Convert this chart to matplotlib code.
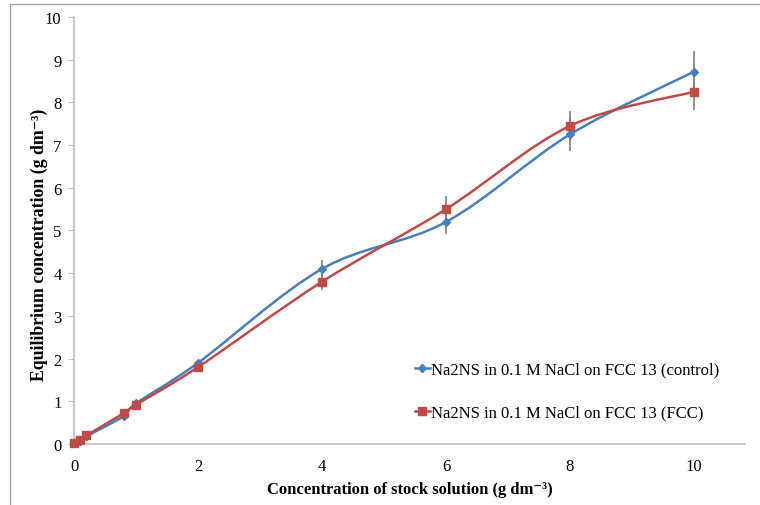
import numpy as np
import matplotlib.pyplot as plt
from matplotlib.path import Path
from matplotlib.patches import PathPatch
from matplotlib.lines import Line2D

# Data
stock_conc = [0, 0.1, 0.2, 0.8, 1, 2, 4, 6, 8, 10]
control_eq = [0.02, 0.08, 0.18, 0.65, 0.95, 1.9, 4.1, 5.2, 7.25, 8.72]
fcc_eq = [0.02, 0.1, 0.2, 0.72, 0.92, 1.8, 3.8, 5.5, 7.45, 8.25]
control_err = [0, 0, 0, 0, 0, 0, 0.2, 0.28, 0.38, 0.48]
fcc_err = [0, 0, 0, 0, 0, 0, 0.2, 0.3, 0.35, 0.42]

label_control = 'Na2NS in 0.1 M NaCl on FCC 13 (control)'
label_fcc = 'Na2NS in 0.1 M NaCl on FCC 13 (FCC)'

BLUE = '#4A7EBB'
RED = '#BE4B48'
AXIS_GRAY = '#BFBFBF'

plt.rcParams['font.family'] = ['Liberation Serif', 'DejaVu Serif']


def smooth_path(x, y, tension=1 / 6):
    # Excel-like smoothed line built from cubic Bezier segments
    x = np.asarray(x, float)
    y = np.asarray(y, float)
    n = len(x)
    verts = [(x[0], y[0])]
    codes = [Path.MOVETO]
    for i in range(n - 1):
        i0 = max(i - 1, 0)
        i3 = min(i + 2, n - 1)
        c1 = (x[i] + (x[i + 1] - x[i0]) * tension, y[i] + (y[i + 1] - y[i0]) * tension)
        c2 = (x[i + 1] - (x[i3] - x[i]) * tension, y[i + 1] - (y[i3] - y[i]) * tension)
        verts += [c1, c2, (x[i + 1], y[i + 1])]
        codes += [Path.CURVE4] * 3
    return Path(verts, codes)


fig = plt.figure(figsize=(7.6, 5.06), dpi=100)
ax = fig.add_axes([0.0974, 0.1206, 0.8826, 0.8438])

# Outer chart frame (left and top edges visible)
fig.add_artist(Line2D([10 / 760, 10 / 760], [0, 1 - 5 / 506], color='#A6A6A6', lw=1))
fig.add_artist(Line2D([10 / 760, 1], [1 - 5 / 506, 1 - 5 / 506], color='#A6A6A6', lw=1))

# Error bars
ax.errorbar(stock_conc, control_eq, yerr=control_err, fmt='none', ecolor='#7F7F7F', elinewidth=1.2, capsize=0, zorder=2)
ax.errorbar(stock_conc, fcc_eq, yerr=fcc_err, fmt='none', ecolor='#7F7F7F', elinewidth=1.2, capsize=0, zorder=2)

# Smoothed lines
ax.add_patch(PathPatch(smooth_path(stock_conc, control_eq), facecolor='none', edgecolor=BLUE, lw=1.8, zorder=3))
ax.add_patch(PathPatch(smooth_path(stock_conc, fcc_eq), facecolor='none', edgecolor=RED, lw=1.8, zorder=3))

# Markers
ax.plot(stock_conc, control_eq, linestyle='none', marker='D', ms=4, color=BLUE, zorder=4, clip_on=False)
ax.plot(stock_conc, fcc_eq, linestyle='none', marker='s', ms=6, color=RED, zorder=4, clip_on=False)

ax.set_xlim(0, 10.82)
ax.set_ylim(0, 10)
ax.set_xticks(range(0, 11, 2))
ax.set_yticks(range(0, 11))

for side in ['top', 'right']:
    ax.spines[side].set_visible(False)
for side in ['left', 'bottom']:
    ax.spines[side].set_color(AXIS_GRAY)
    ax.spines[side].set_linewidth(1.2)
ax.tick_params(axis='y', length=4, color=AXIS_GRAY, labelsize=12, pad=5)
ax.tick_params(axis='x', length=0, labelsize=12, pad=10)

ax.set_xlabel('Concentration of stock solution (g dm\u207b\u00b3)', fontsize=12, fontweight='bold', labelpad=5)
ax.set_ylabel('Equilibrium concentration (g dm\u207b\u00b3)', fontsize=12.8, fontweight='bold')
ax.yaxis.set_label_coords(-0.039, 0.468)

handles = [
    Line2D([], [], color=BLUE, marker='D', ms=4, lw=1.8),
    Line2D([], [], color=RED, marker='s', ms=6, lw=1.8),
]
ax.legend(handles, [label_control, label_fcc], loc='lower right', bbox_to_anchor=(0.985, 0.02),
          frameon=False, fontsize=12, handlelength=0.9, handletextpad=0.1, labelspacing=1.6)

fig.savefig('out.png', dpi=100)
